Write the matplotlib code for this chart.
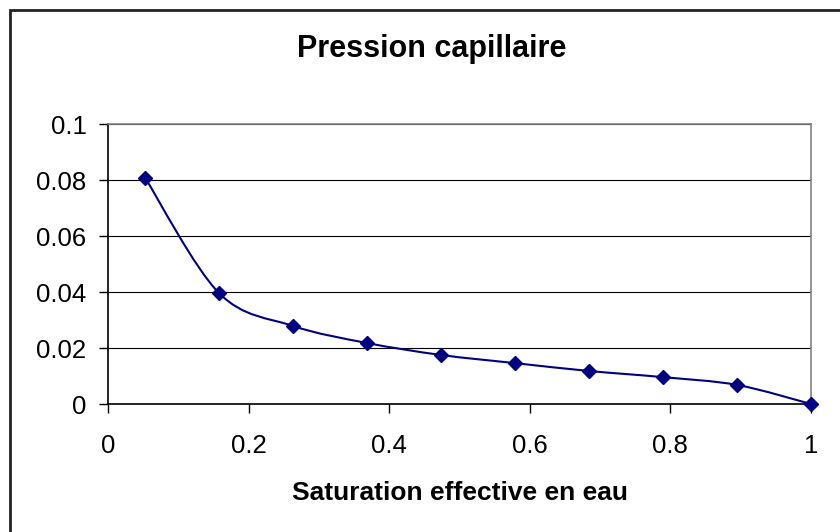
import numpy as np
import matplotlib.pyplot as plt
from matplotlib.path import Path
from matplotlib.patches import PathPatch, Rectangle

plt.rcParams["font.family"] = ["Liberation Sans", "DejaVu Sans"]

saturation = [0.053, 0.158, 0.263, 0.368, 0.474, 0.579, 0.684, 0.789, 0.895, 1.0]
pression = [0.0807, 0.0396, 0.0279, 0.0218, 0.0175, 0.0146, 0.0118, 0.0096, 0.0068, 0.0]
x_ticks = [0, 0.2, 0.4, 0.6, 0.8, 1]
x_labels = ["0", "0.2", "0.4", "0.6", "0.8", "1"]
y_ticks = [0, 0.02, 0.04, 0.06, 0.08, 0.1]
y_labels = ["0", "0.02", "0.04", "0.06", "0.08", "0.1"]

NAVY = "#000080"
W, H = 840, 532


def smooth_path(xs, ys):
    """Bezier path through the points, control points from neighbouring points."""
    pts = np.column_stack([xs, ys])
    n = len(pts)
    verts = [pts[0]]
    codes = [Path.MOVETO]
    for i in range(n - 1):
        p_prev = pts[max(i - 1, 0)]
        p0 = pts[i]
        p1 = pts[i + 1]
        p_next = pts[min(i + 2, n - 1)]
        c1 = p0 + (p1 - p_prev) / 6.0
        c2 = p1 - (p_next - p0) / 6.0
        verts += [c1, c2, p1]
        codes += [Path.CURVE4] * 3
    return Path(verts, codes)


fig = plt.figure(figsize=(W / 100, H / 100), dpi=100)
ax = fig.add_axes([108 / W, 1 - 404 / H, 703 / W, 280 / H])

# outer chart frame, only its left and top edges fall inside the image
fig.patches.append(Rectangle((10 / W, -0.2), 1.2, 1.2 - 10 / H,
                             transform=fig.transFigure, fill=False,
                             edgecolor="#222222", linewidth=2))

ax.add_patch(PathPatch(smooth_path(saturation, pression), facecolor="none",
                       edgecolor=NAVY, linewidth=1.5, zorder=3))
ax.plot(saturation, pression, linestyle="none", marker="D", markersize=7.5,
        color=NAVY, clip_on=False, zorder=4)

ax.set_xlim(0, 1)
ax.set_ylim(0, 0.1)
ax.set_xticks(x_ticks)
ax.set_xticklabels(x_labels)
ax.set_yticks(y_ticks)
ax.set_yticklabels(y_labels)
ax.tick_params(axis="both", direction="out", length=6.5, width=1,
               labelsize=18.5, colors="black")
ax.tick_params(axis="x", pad=15)
ax.tick_params(axis="y", pad=9)

ax.yaxis.grid(True, color="black", linewidth=0.8)
ax.set_axisbelow("line")

for side in ("left", "bottom"):
    ax.spines[side].set_color("black")
    ax.spines[side].set_linewidth(1.2)
for side in ("right", "top"):
    ax.spines[side].set_color("#808080")
    ax.spines[side].set_linewidth(1.2)

fig.text(460 / W, 1 - 500 / H, "Saturation effective en eau", ha="center",
         va="baseline", fontsize=19, fontweight="bold")
fig.text(432 / W, 1 - 57 / H, "Pression capillaire", ha="center",
         va="baseline", fontsize=22, fontweight="bold")

fig.savefig("out.png", dpi=100)
